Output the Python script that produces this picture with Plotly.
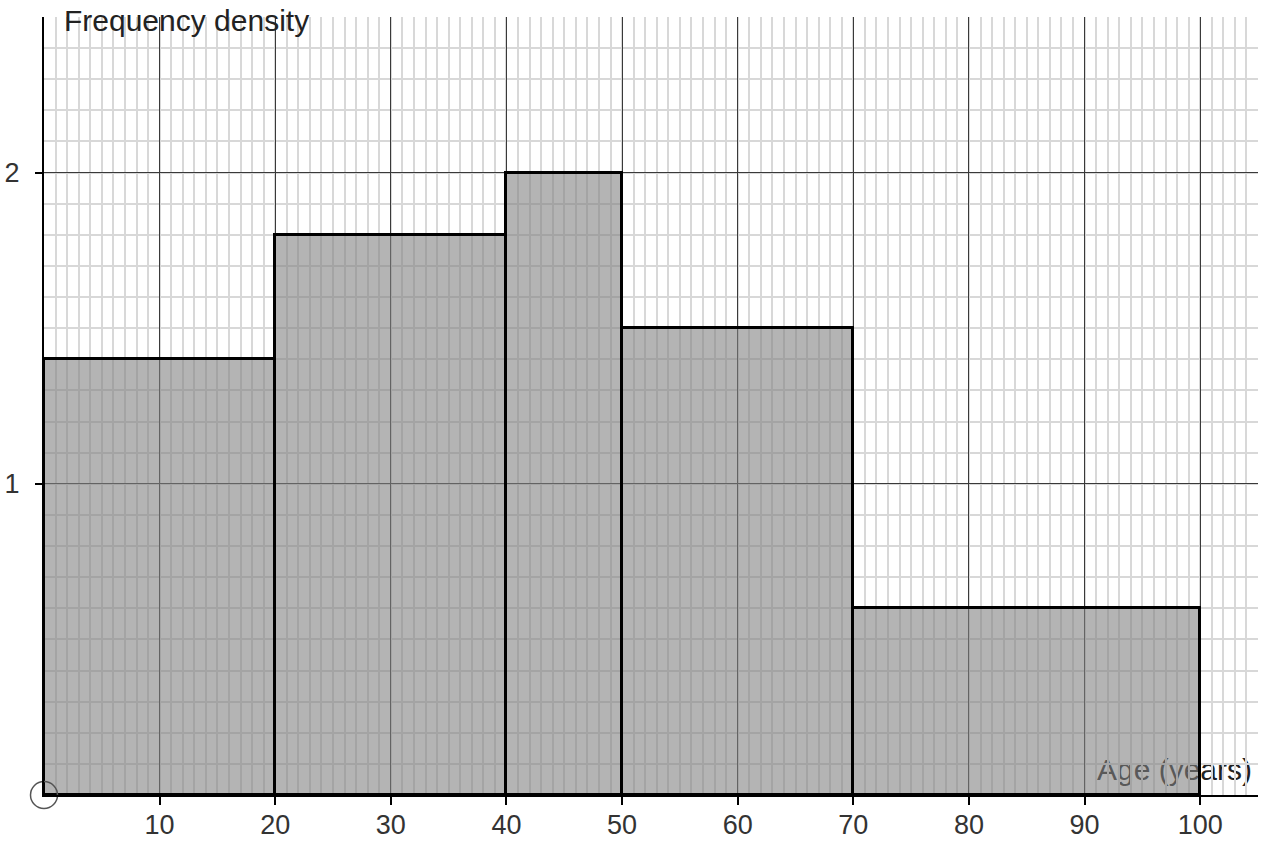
import numpy as np
import plotly.graph_objects as go

# Data
edges = [0, 20, 40, 50, 70, 100]
density = [1.4, 1.8, 2.0, 1.5, 0.6]
x_ticks = [10, 20, 30, 40, 50, 60, 70, 80, 90, 100]
y_ticks = [1, 2]
x_title = "Age (years)"
y_title = "Frequency density"

e = np.array(edges, dtype=float)
centers = (e[:-1] + e[1:]) / 2
widths = e[1:] - e[:-1]

FONT = "Liberation Sans, Arial, sans-serif"

fig = go.Figure()
fig.add_trace(go.Bar(
    x=centers, y=density, width=widths,
    marker=dict(color="rgba(128,128,128,0.59)",
                line=dict(color="black", width=3)),
    hoverinfo="skip",
))
fig.add_trace(go.Scatter(
    x=[0], y=[0], mode="markers",
    marker=dict(symbol="circle-open", size=27, color="#555",
                line=dict(color="#555", width=1.5)),
    cliponaxis=False, hoverinfo="skip",
))

axis_common = dict(
    showline=True, linecolor="black", linewidth=2,
    ticks="outside", tickcolor="black", tickwidth=1.5,
    zeroline=False, showgrid=True, gridcolor="#3a3a3a", gridwidth=1,
    tickfont=dict(family=FONT, size=27, color="#333"),
    tickmode="array", automargin=False,
)

fig.update_layout(
    width=1263, height=841,
    margin=dict(l=44, r=5, t=17, b=46),
    plot_bgcolor="white", paper_bgcolor="white",
    showlegend=False,
    bargap=0,
    xaxis=dict(
        **axis_common, range=[0, 105], tickvals=x_ticks, ticklen=8,
        ticklabelstandoff=-3,
        minor=dict(tickmode="linear", tick0=0, dtick=1, showgrid=True,
                   gridcolor="#d8d8d8", gridwidth=1.5, ticks=""),
    ),
    yaxis=dict(
        **axis_common, range=[0, 2.5], tickvals=y_ticks, ticklen=7,
        ticklabelstandoff=10,
        minor=dict(tickmode="linear", tick0=0, dtick=0.1, showgrid=True,
                   gridcolor="#d8d8d8", gridwidth=1.5, ticks=""),
    ),
    annotations=[dict(
        text=y_title, xref="paper", yref="paper", x=0, y=1,
        xanchor="left", yanchor="middle", xshift=18, yshift=-3,
        showarrow=False, font=dict(family=FONT, size=30, color="#222"),
    )],
    shapes=[dict(
        type="rect", xref="paper", yref="paper", x0=0.7, x1=1, y0=0.012, y1=0.2,
        line=dict(width=0), fillcolor="rgba(0,0,0,0)", layer="between",
        label=dict(text=x_title, textposition="bottom right", padding=3,
                   font=dict(family=FONT, size=30, color="#222")),
    )],
)

fig.write_html(
    "out.html",
    config={"displayModeBar": False},
    post_script="document.body.style.margin='0';document.body.style.overflow='hidden';",
)
